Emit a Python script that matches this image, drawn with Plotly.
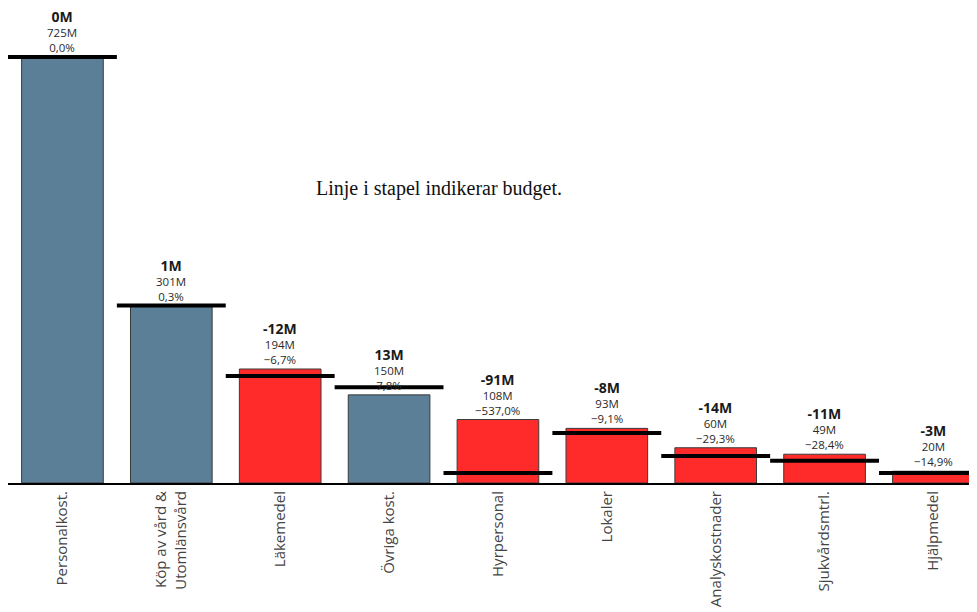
import plotly.graph_objects as go

categories = ["Personalkost.", "Köp av vård &<br>Utomlänsvård", "Läkemedel", "Övriga kost.",
              "Hyrpersonal", "Lokaler", "Analyskostnader", "Sjukvårdsmtrl.", "Hjälpmedel"]
actual = [725, 301, 194, 150, 108, 93, 60, 49, 20]
budget = [725, 302, 182, 163, 17, 85, 46, 38, 17]
diff_labels = ["0M", "1M", "-12M", "13M", "-91M", "-8M", "-14M", "-11M", "-3M"]
pct_labels = ["0,0%", "0,3%", "−6,7%", "7,8%", "−537,0%", "−9,1%", "−29,3%", "−28,4%", "−14,9%"]

BLUE = "#5A7F96"
RED = "#FF2B2B"

idx = list(range(len(categories)))
colors = [BLUE if b - a >= 0 else RED for a, b in zip(actual, budget)]

fig = go.Figure()
fig.add_trace(go.Bar(
    x=idx, y=actual, width=0.75,
    marker=dict(color=colors, line=dict(color="#3a3a3a", width=1)),
    hoverinfo="skip", showlegend=False,
))

bx, by = [], []
for i, b in zip(idx, budget):
    bx += [i - 0.5, i + 0.5, None]
    by += [b, b, None]
fig.add_trace(go.Scatter(x=bx, y=by, mode="lines",
                         line=dict(color="black", width=4),
                         hoverinfo="skip", showlegend=False))

ann = []
for i, a, d, p in zip(idx, actual, diff_labels, pct_labels):
    ann.append(dict(x=i, y=a,
                    text=f"<span style='font-size:14px;color:#1a1a1a'><b>{d}</b></span><br>{a}M<br>{p}",
                    showarrow=False, yanchor="bottom", yshift=1, borderpad=0,
                    font=dict(family="Open Sans", size=11.5, color="#2a2a2a")))

ann.append(dict(xref="paper", yref="paper", x=(439 - 8) / 969, y=(483 - 188) / 473,
                text="Linje i stapel indikerar budget.", showarrow=False,
                xanchor="center", yanchor="middle",
                font=dict(family="Liberation Serif", size=20, color="#111")))

fig.update_layout(
    width=969, height=604,
    margin=dict(l=0, r=0, t=2, b=129, autoexpand=False),
    paper_bgcolor="white", plot_bgcolor="white",
    annotations=ann,
    xaxis=dict(range=[-0.5, 8.4], tickmode="array", tickvals=idx, ticktext=categories,
               tickangle=-90, showgrid=False, zeroline=False, automargin=False,
               showline=True, linecolor="black", linewidth=2,
               ticks="", tickfont=dict(family="Open Sans", size=15, color="#444")),
    yaxis=dict(range=[0, 805], visible=False, showgrid=False, zeroline=False, automargin=False),
)

fig.write_html("out.html")
